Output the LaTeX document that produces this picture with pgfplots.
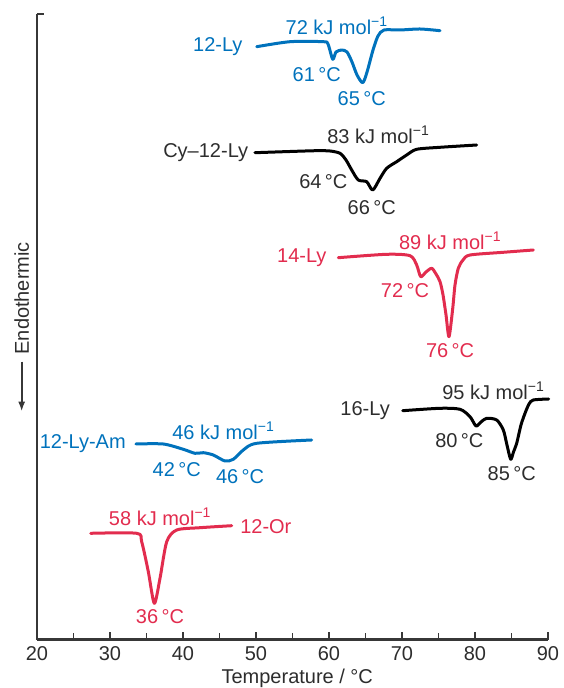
\documentclass[border=0pt]{standalone}
\usepackage{fontspec}
\setmainfont{Liberation Sans}
\usepackage{pgfplots}
\pgfplotsset{compat=1.18}
\usetikzlibrary{arrows.meta}
\definecolor{cblue}{RGB}{0,114,188}
\definecolor{cred}{RGB}{226,44,78}
\definecolor{cdark}{RGB}{45,45,45}
\definecolor{caxis}{RGB}{55,55,55}
\begin{document}
\begin{tikzpicture}[font=\fontsize{20}{23}\selectfont]
\useasboundingbox (-37pt,-48.5pt) rectangle (526pt,639.5pt);
\begin{axis}[
  at={(0,0)}, anchor=south west,
  scale only axis, width=511pt, height=625.5pt,
  xmin=20, xmax=90, ymin=48.5, ymax=674,
  axis x line*=bottom, axis y line*=left,
  axis line style={caxis, line width=2.2pt, -},
  xtick={20,30,...,90}, minor xtick={25,35,...,85},
  ytick=\empty,
  tick align=inside,
  major tick length=8pt, minor tick length=7pt,
  every tick/.style={caxis, line width=1.8pt},
  xticklabel style={text=cdark, yshift=-4pt},
  /pgf/number format/assume math mode=true,
  font=\fontsize{20}{23}\selectfont,
  clip=false,
  every axis plot/.append style={line width=3pt, smooth, tension=0.45, no markers, line join=round, line cap=round},
]
% 12-Ly
\addplot[cblue] coordinates {
(50.10,641.3) (54.66,646.3) (59.22,646.3) (59.86,644) (60.51,628.7) (60.96,636) (61.74,638)
(62.47,636) (63.15,626) (63.84,613) (64.62,605.3) (65.21,616) (66.03,638) (66.71,652)
(67.53,658) (69.73,658) (72.47,659) (75.21,657.3)};
% Cy-12-Ly
\addplot[black] coordinates {
(49.86,535.3) (54.66,536.5) (58.32,537.3) (60.14,537) (61.51,534.7) (62.33,528) (63.11,518)
(64.01,508) (65.16,506.3) (65.99,498) (66.99,509.7) (67.90,519.7) (69.27,526.3) (70.64,533)
(72.01,538.7) (75.21,540.7) (80.23,543)};
% 14-Ly
\addplot[cred] coordinates {
(61.27,430.3) (67.90,433.7) (71.10,432.3) (72.01,423) (72.56,411.3) (73.29,416) (74.07,419.7)
(74.66,414) (75.21,406.3) (75.62,393) (76.03,373) (76.44,351.3) (76.95,379.7) (77.26,403)
(77.71,419.7) (78.36,428) (79.32,433) (83.88,435.7) (87.99,438)};
% 16-Ly
\addplot[black] coordinates {
(70.10,277.3) (75.21,279.7) (77.95,278.7) (79.32,271.3) (80.14,262) (80.82,266) (81.60,269.7)
(82.97,268) (83.88,258) (84.38,243) (84.89,228.7) (85.27,236) (85.71,244.7) (86.30,263)
(86.85,274.7) (87.40,284) (87.99,288) (90.1,289)};
% 12-Ly-Am
\addplot[cblue] coordinates {
(33.56,244) (37.30,244) (40.04,238.7) (41.64,234.7) (42.78,235.3) (44.15,233) (45.75,227)
(46.89,228.7) (48.26,238) (50.10,244.7) (57.63,248)};
% 12-Or
\addplot[cred] coordinates {
(27.36,154.7) (33.66,154.7) (34.34,146.3) (35.25,116.3) (36.07,84.7) (36.85,109.7)
(37.77,146.3) (39.14,158) (42.33,160.3) (46.67,162.3)};

% labels
\node[cblue, anchor=east] at (axis cs:48.63,641.3) {12-Ly};
\node[cblue] at (axis cs:61.05,662) {72 kJ mol\textsuperscript{−1}};
\node[cblue] at (axis cs:58.32,613) {61\,°C};
\node[cblue] at (axis cs:64.48,589.7) {65\,°C};

\node[cdark, anchor=east] at (axis cs:49.41,535.3) {Cy–12-Ly};
\node[cdark] at (axis cs:66.75,553) {83 kJ mol\textsuperscript{−1}};
\node[cdark] at (axis cs:59.22,506.3) {64\,°C};
\node[cdark] at (axis cs:65.85,480.7) {66\,°C};

\node[cred, anchor=east] at (axis cs:60.14,430.3) {14-Ly};
\node[cred] at (axis cs:76.58,447) {89 kJ mol\textsuperscript{−1}};
\node[cred] at (axis cs:70.41,397) {72\,°C};
\node[cred] at (axis cs:76.58,337) {76\,°C};

\node[cdark, anchor=east] at (axis cs:68.81,277.3) {16-Ly};
\node[cdark] at (axis cs:82.51,297.3) {95 kJ mol\textsuperscript{−1}};
\node[cdark] at (axis cs:77.85,247.3) {80\,°C};
\node[cdark] at (axis cs:85.03,214) {85\,°C};

\node[cblue, anchor=east] at (axis cs:32.64,244) {12-Ly-Am};
\node[cblue] at (axis cs:45.52,257.3) {46 kJ mol\textsuperscript{−1}};
\node[cblue] at (axis cs:39.14,218) {42\,°C};
\node[cblue] at (axis cs:47.81,211.3) {46\,°C};

\node[cred, anchor=west] at (axis cs:47.36,161.3) {12-Or};
\node[cred] at (axis cs:36.85,171.3) {58 kJ mol\textsuperscript{−1}};
\node[cred] at (axis cs:36.85,71.3) {36\,°C};

% axis title, y label
\node[cdark] at (axis cs:55.65,9.7) {Temperature / °C};
\node[cdark, rotate=90] at (axis cs:17.90,389.7) {Endothermic};
\draw[caxis, line width=2pt, -{Latex[length=10pt,width=7pt]}] (axis cs:17.90,326.3) -- (axis cs:17.90,276.3);
\draw[caxis, line width=2.2pt] (axis cs:20,674) -- (axis cs:21.0,674);
\end{axis}
\end{tikzpicture}
\end{document}
